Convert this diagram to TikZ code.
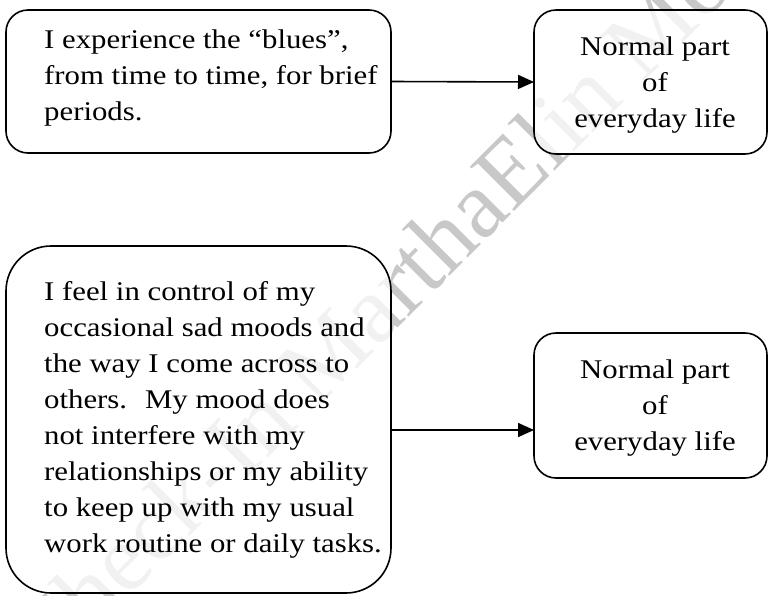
\documentclass[tikz,border=0pt]{standalone}
\usepackage{fontspec}
\setmainfont{Liberation Serif}[FakeStretch=1.14]
\newfontfamily\wmfont{Liberation Serif}
\usetikzlibrary{arrows.meta,calc}
\definecolor{wmgray}{RGB}{200,200,200}
\begin{document}
\begin{tikzpicture}[x=1pt,y=-1pt,
  box/.style={draw=black, line width=1.6pt, fill=white, fill opacity=0.75,
    rounded corners=22pt, inner sep=0pt, outer sep=0pt},
  bigbox/.style={box, rounded corners=45pt},
  arr/.style={line width=1.6pt, -{Triangle[length=16pt,width=14pt]}},
  txt/.style={inner sep=0pt, anchor=base west, font=\fontsize{27pt}{36pt}\selectfont},
  ctxt/.style={inner sep=0pt, anchor=base, font=\fontsize{27pt}{36pt}\selectfont},
  wm/.style={inner sep=0pt, anchor=base west, text=wmgray,
    font=\wmfont\fontsize{95.7pt}{96pt}\selectfont}]
\useasboundingbox (0,0) rectangle (768,595);
\clip (0,0) rectangle (768,595);
% watermark
\node[wm, rotate=45] (wmark) at (48.1,677.9) {Check-In MarthaElin Mo};
% boxes
\node[box, minimum width=385pt, minimum height=143pt] (b1) at (198.5,81.5) {};
\node[box, minimum width=233pt, minimum height=144pt] (b2) at (650.5,82) {};
\node[bigbox, minimum width=385pt, minimum height=347pt] (b3) at (198.5,419.5) {};
\node[box, minimum width=233pt, minimum height=145pt] (b4) at (650.5,405.5) {};
% texts
\node[txt] (t1) at (44,48) {\parbox[t]{380pt}{I experience the “blues”,\\from time to time, for brief\\periods.}};
\node[ctxt] (t2) at (655,55) {\parbox[t]{233pt}{\centering Normal part\\of\\everyday life}};
\node[txt] (t3) at (44,300.7) {\parbox[t]{380pt}{I feel in control of my\\occasional sad moods and\\the way I come across to\\others.~ My mood does\\not interfere with my\\relationships or my ability\\to keep up with my usual\\work routine or daily tasks.}};
\node[ctxt] (t4) at (655,378.3) {\parbox[t]{233pt}{\centering Normal part\\of\\everyday life}};
% connectors
\coordinate (a2) at (0,430);
\draw[arr] (b1.east) -- (b2.west);
\draw[arr] (b3.east |- a2) -- (b4.west |- a2);
\end{tikzpicture}
\end{document}
